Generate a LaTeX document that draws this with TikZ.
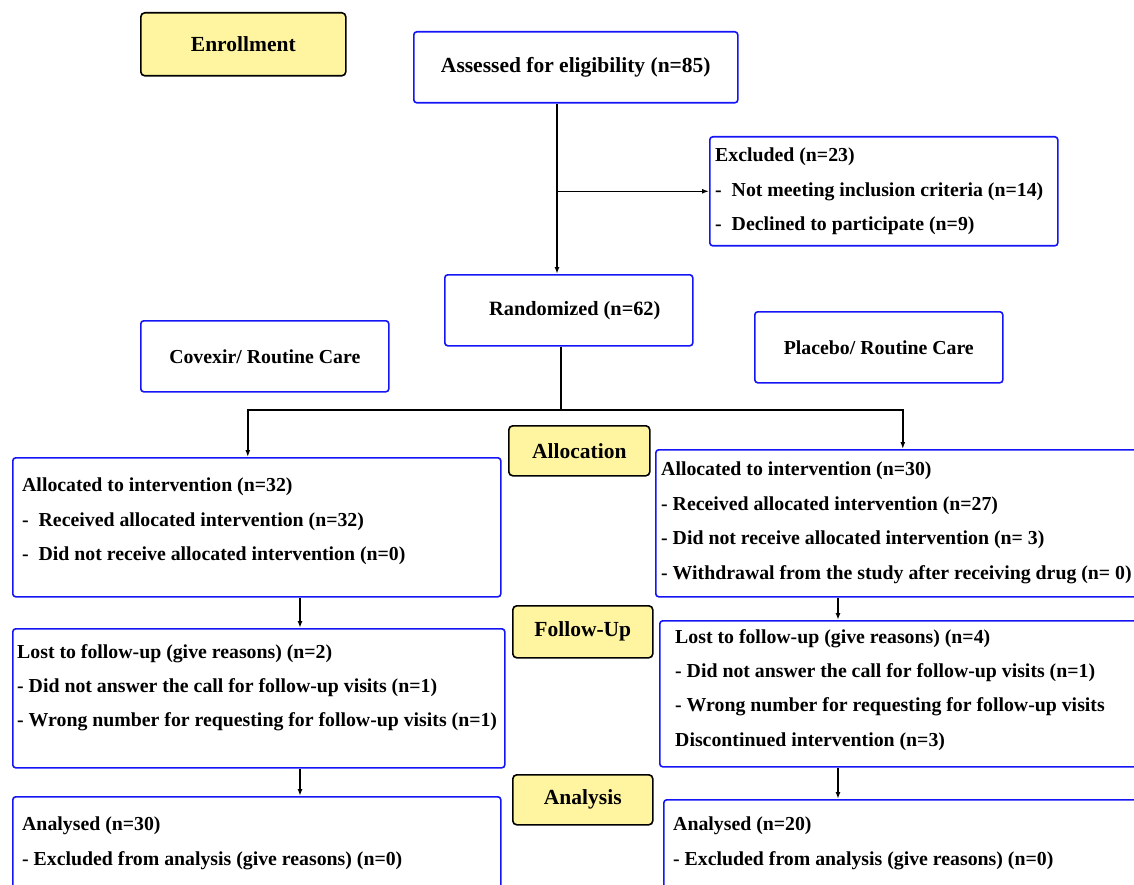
\documentclass[tikz,border=0pt]{standalone}
\usepackage{fontspec}
\setmainfont{Liberation Serif}
\usetikzlibrary{positioning, arrows.meta}
\definecolor{boxblue}{RGB}{20,20,245}
\definecolor{stageyellow}{RGB}{255,245,160}

\begin{document}
\begin{tikzpicture}[x=1pt, y=-1pt,
    bluebox/.style={draw=boxblue, line width=1.6pt, rounded corners=3pt, anchor=north west, inner sep=0pt, font=\fontsize{19.8}{24}\selectfont\bfseries},
    stagebox/.style={draw=black, fill=stageyellow, line width=1.6pt, rounded corners=4pt, anchor=north west, inner sep=0pt, font=\fontsize{21.5}{26}\selectfont\bfseries},
    listtext/.style={align=left, inner sep=0pt, font=\fontsize{19.8}{34.4}\selectfont\bfseries},
    link/.style={line width=1.5pt},
    arr/.style={link, -{Latex[length=7pt, width=5pt]}}]
    \useasboundingbox (0,0) rectangle (1134,885);
    \clip (0,0) rectangle (1134,885);

    % stages
    \node[stagebox, minimum width=205pt, minimum height=63pt] (enrol) at (140,12) {Enrollment};
    \node[stagebox, minimum width=141pt, minimum height=50pt] (alloc) at (508,425) {Allocation};
    \node[stagebox, minimum width=140pt, minimum height=52pt] (follow) at (512,605) {Follow-Up};
    \node[stagebox, minimum width=140pt, minimum height=50pt] (anal) at (512,774) {Analysis};

    % boxes
    \node[bluebox, minimum width=324pt, minimum height=71pt, font=\fontsize{21.5}{26}\selectfont\bfseries] (assess) at (413,31) {Assessed for eligibility (n=85)};
    \node[bluebox, minimum width=348pt, minimum height=109pt] (excl) at (709,136) {};
    \node[bluebox, minimum width=248pt, minimum height=71pt, font=\fontsize{20.3}{24}\selectfont\bfseries] (rand) at (444,274) {\hspace*{12pt}Randomized (n=62)};
    \node[bluebox, minimum width=248pt, minimum height=71pt] (covexir) at (140,320) {Covexir/ Routine Care};
    \node[bluebox, minimum width=248pt, minimum height=71pt] (placebo) at (754,311) {Placebo/ Routine Care};
    \node[bluebox, minimum width=488pt, minimum height=139pt] (lalloc) at (12,457) {};
    \node[bluebox, minimum width=494pt, minimum height=147pt] (ralloc) at (655,449) {};
    \node[bluebox, minimum width=492pt, minimum height=139pt] (lfollow) at (12,628) {};
    \node[bluebox, minimum width=490pt, minimum height=146pt] (rfollow) at (659,620) {};
    \node[bluebox, minimum width=488pt, minimum height=110pt] (lanal) at (12,796) {};
    \node[bluebox, minimum width=486pt, minimum height=110pt] (ranal) at (663,799) {};

    % texts
    \node[listtext, below right=12pt and 6pt of excl.north west] (excl-txt)
        {Excluded (n=23)\\ -~~Not meeting inclusion criteria (n=14)\\ -~~Declined to participate (n=9)};
    \node[listtext, below right=21pt and 10pt of lalloc.north west] (lalloc-txt)
        {Allocated to intervention (n=32)\\ -~~Received allocated intervention (n=32)\\ -~~Did not receive allocated intervention (n=0)};
    \node[listtext, below right=13pt and 6pt of ralloc.north west] (ralloc-txt)
        {Allocated to intervention (n=30)\\ - Received allocated intervention (n=27)\\ - Did not receive allocated intervention (n= 3)\\ - Withdrawal from the study after receiving drug (n= 0)};
    \node[listtext, below right=16pt and 5pt of lfollow.north west] (lfollow-txt)
        {Lost to follow-up (give reasons) (n=2)\\ - Did not answer the call for follow-up visits (n=1)\\ - Wrong number for requesting for follow-up visits (n=1)};
    \node[listtext, below right=9pt and 16pt of rfollow.north west] (rfollow-txt)
        {Lost to follow-up (give reasons) (n=4)\\ - Did not answer the call for follow-up visits (n=1)\\ - Wrong number for requesting for follow-up visits\\ Discontinued intervention (n=3)};
    \node[listtext, below right=21pt and 10pt of lanal.north west] (lanal-txt)
        {Analysed (n=30)\\ - Excluded from analysis (give reasons) (n=0)};
    \node[listtext, below right=18pt and 10pt of ranal.north west] (ranal-txt)
        {Analysed (n=20)\\ - Excluded from analysis (give reasons) (n=0)};

    % connectors
    \coordinate (trunk) at (557,0);
    \coordinate (split) at (561,410);
    \coordinate (lcol) at (300,0);
    \coordinate (rcol) at (838,0);
    \draw[arr] (assess.south -| trunk) -- (rand.north -| trunk);
    \draw[arr] (excl.west -| trunk) -- (excl.west);
    \draw[link] (rand.south -| split) -- (split);
    \draw[arr] (split) -| ([xshift=-9pt]lalloc.north);
    \draw[arr] (split) -| (ralloc.north);
    \draw[arr] (lalloc.south -| lcol) -- (lfollow.north -| lcol);
    \draw[arr] (lfollow.south -| lcol) -- (lanal.north -| lcol);
    \draw[arr] (ralloc.south -| rcol) -- (rfollow.north -| rcol);
    \draw[arr] (rfollow.south -| rcol) -- (ranal.north -| rcol);
\end{tikzpicture}
\end{document}
